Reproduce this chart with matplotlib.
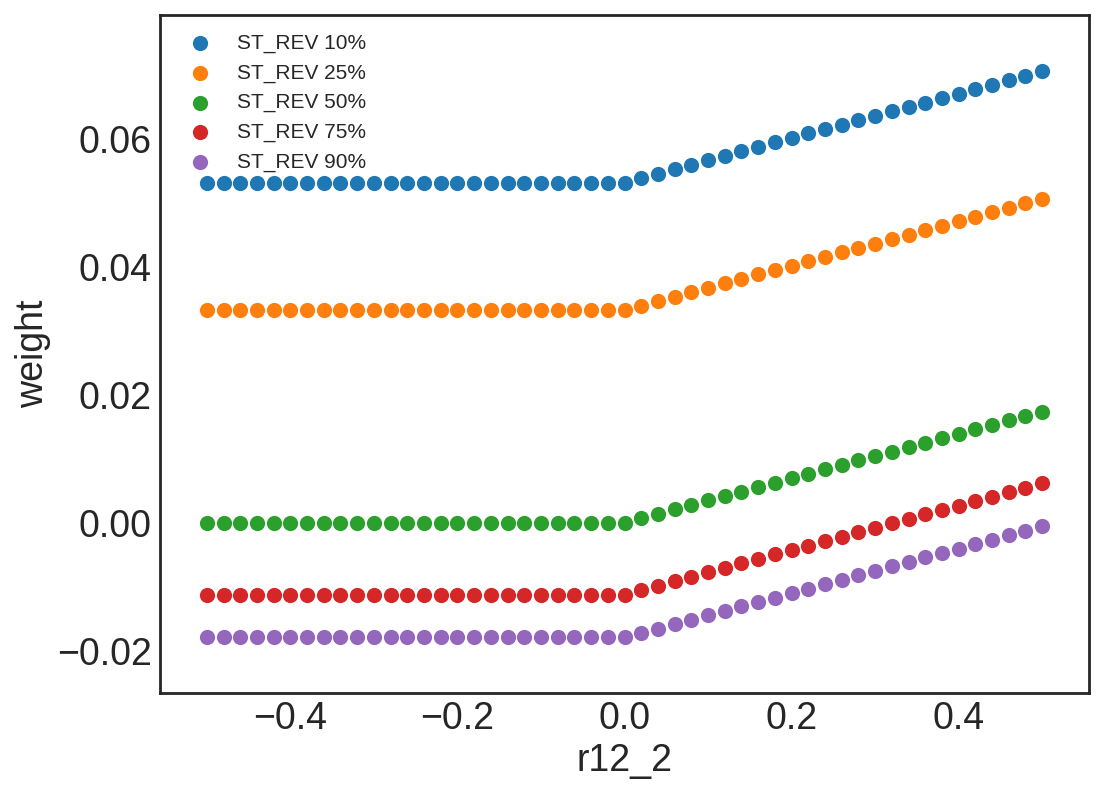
import matplotlib
matplotlib.use("Agg")
import matplotlib.pyplot as plt

# r12_2 grid, -0.50 .. 0.50 in steps of 0.02
r12_2 = [
    -0.50, -0.48, -0.46, -0.44, -0.42, -0.40, -0.38, -0.36, -0.34, -0.32,
    -0.30, -0.28, -0.26, -0.24, -0.22, -0.20, -0.18, -0.16, -0.14, -0.12,
    -0.10, -0.08, -0.06, -0.04, -0.02, 0.00, 0.02, 0.04, 0.06, 0.08,
    0.10, 0.12, 0.14, 0.16, 0.18, 0.20, 0.22, 0.24, 0.26, 0.28,
    0.30, 0.32, 0.34, 0.36, 0.38, 0.40, 0.42, 0.44, 0.46, 0.48, 0.50,
]

st_rev_10 = [
    0.05317, 0.05317, 0.05317, 0.05317, 0.05317, 0.05317, 0.05317, 0.05317, 0.05317, 0.05317,
    0.05317, 0.05317, 0.05317, 0.05317, 0.05317, 0.05317, 0.05317, 0.05317, 0.05317, 0.05317,
    0.05317, 0.05317, 0.05317, 0.05317, 0.05317, 0.05317, 0.05386, 0.05458, 0.05527, 0.05598,
    0.05667, 0.05739, 0.05808, 0.05880, 0.05948, 0.06020, 0.06089, 0.06156, 0.06223, 0.06292,
    0.06359, 0.06433, 0.06500, 0.06567, 0.06641, 0.06708, 0.06777, 0.06848, 0.06917, 0.06984, 0.07058,
]
st_rev_25 = [
    0.03328, 0.03328, 0.03328, 0.03328, 0.03328, 0.03328, 0.03328, 0.03328, 0.03328, 0.03328,
    0.03328, 0.03328, 0.03328, 0.03328, 0.03328, 0.03328, 0.03328, 0.03328, 0.03328, 0.03328,
    0.03328, 0.03328, 0.03328, 0.03328, 0.03328, 0.03328, 0.03395, 0.03464, 0.03536, 0.03605,
    0.03677, 0.03745, 0.03817, 0.03886, 0.03953, 0.04020, 0.04089, 0.04161, 0.04230, 0.04297,
    0.04364, 0.04438, 0.04505, 0.04578, 0.04645, 0.04714, 0.04786, 0.04855, 0.04922, 0.04995, 0.05063,
]
st_rev_50 = [
    0.0, 0.0, 0.0, 0.0, 0.0, 0.0, 0.0, 0.0, 0.0, 0.0,
    0.0, 0.0, 0.0, 0.0, 0.0, 0.0, 0.0, 0.0, 0.0, 0.0,
    0.0, 0.0, 0.0, 0.0, 0.0, 0.0, 0.00072, 0.00141, 0.00213, 0.00281,
    0.00353, 0.00422, 0.00489, 0.00563, 0.00630, 0.00703, 0.00770, 0.00838, 0.00911, 0.00978,
    0.01047, 0.01114, 0.01188, 0.01255, 0.01322, 0.01395, 0.01463, 0.01536, 0.01603, 0.01672, 0.01739,
]
st_rev_75 = [
    -0.01120, -0.01120, -0.01120, -0.01120, -0.01120, -0.01120, -0.01120, -0.01120, -0.01120, -0.01120,
    -0.01120, -0.01120, -0.01120, -0.01120, -0.01120, -0.01120, -0.01120, -0.01120, -0.01120, -0.01120,
    -0.01120, -0.01120, -0.01120, -0.01120, -0.01120, -0.01120, -0.01047, -0.00980, -0.00906, -0.00839,
    -0.00770, -0.00698, -0.00630, -0.00563, -0.00489, -0.00422, -0.00355, -0.00281, -0.00214, -0.00145,
    -0.00073, -0.00005, 0.00063, 0.00136, 0.00203, 0.00270, 0.00344, 0.00411, 0.00480, 0.00552, 0.00620,
]
st_rev_90 = [
    -0.01792, -0.01792, -0.01792, -0.01792, -0.01792, -0.01792, -0.01792, -0.01792, -0.01792, -0.01792,
    -0.01792, -0.01792, -0.01792, -0.01792, -0.01792, -0.01792, -0.01792, -0.01792, -0.01792, -0.01792,
    -0.01792, -0.01792, -0.01792, -0.01792, -0.01792, -0.01792, -0.01719, -0.01652, -0.01583, -0.01511,
    -0.01442, -0.01375, -0.01302, -0.01234, -0.01167, -0.01094, -0.01027, -0.00958, -0.00886, -0.00817,
    -0.00750, -0.00677, -0.00609, -0.00536, -0.00469, -0.00402, -0.00328, -0.00261, -0.00192, -0.00120, -0.00052,
]

labels = ["ST_REV 10%", "ST_REV 25%", "ST_REV 50%", "ST_REV 75%", "ST_REV 90%"]
series = [st_rev_10, st_rev_25, st_rev_50, st_rev_75, st_rev_90]
colors = ["#1f77b4", "#ff7f0e", "#2ca02c", "#d62728", "#9467bd"]


def main():
    plt.style.use("seaborn-v0_8-white")
    plt.rcParams["font.family"] = ["Liberation Sans", "DejaVu Sans"]
    plt.rcParams["text.color"] = "#262626"
    plt.rcParams["axes.labelcolor"] = "#262626"
    plt.rcParams["xtick.color"] = "#262626"
    plt.rcParams["ytick.color"] = "#262626"

    fig, ax = plt.subplots(figsize=(11.06, 7.94), dpi=100)
    fig.subplots_adjust(left=0.1447, right=0.9846, top=0.9811, bottom=0.1272)

    for vals, lab, col in zip(series, labels, colors):
        ax.scatter(r12_2, vals, s=120, color=col, linewidths=0, label=lab)

    ax.set_xlim(-0.556, 0.556)
    ax.set_ylim(-0.0266, 0.0794)
    ax.set_xticks([-0.4, -0.2, 0.0, 0.2, 0.4])
    ax.set_yticks([-0.02, 0.0, 0.02, 0.04, 0.06])
    ax.tick_params(labelsize=27, pad=6)

    ax.set_xlabel("r12_2", fontsize=27)
    ax.set_ylabel("weight", fontsize=27)

    for sp in ax.spines.values():
        sp.set_color("#262626")
        sp.set_linewidth(2)

    ax.legend(loc="upper left", fontsize=15, frameon=False)

    fig.savefig("out.png", dpi=100)


if __name__ == "__main__":
    main()
